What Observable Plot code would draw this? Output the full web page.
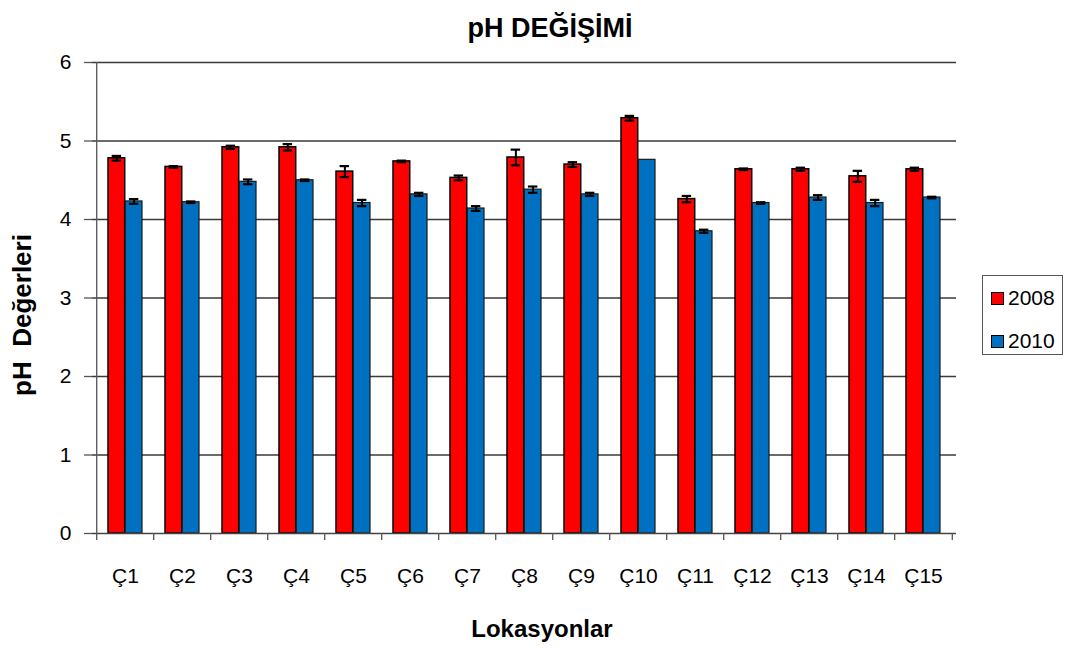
<!DOCTYPE html>
<html>
<head>
<meta charset="utf-8">
<script src="https://cdn.jsdelivr.net/npm/d3@7"></script>
<script src="https://cdn.jsdelivr.net/npm/@observablehq/plot@0.6"></script>
<style>
  html, body { margin: 0; padding: 0; background: #fff; }
  #chart { position: relative; width: 1065px; height: 649px; font-family: "Liberation Sans", Arial, sans-serif; }
  #legend { position: absolute; left: 982px; top: 275px; width: 79px; height: 78px; border: 1px solid #555; background: #fff; }
  .item { position: absolute; left: 8px; display: flex; align-items: center; font-size: 21px; color: #000; }
  .sw { width: 11px; height: 11px; border: 1px solid #000; margin-right: 4px; }
</style>
</head>
<body>
<div id="chart"></div>
<script>
const categories = ["Ç1","Ç2","Ç3","Ç4","Ç5","Ç6","Ç7","Ç8","Ç9","Ç10","Ç11","Ç12","Ç13","Ç14","Ç15"];
const years = ["2008", "2010"];
const ph2008 = [4.78,4.67,4.92,4.92,4.61,4.74,4.53,4.79,4.70,5.29,4.26,4.64,4.64,4.55,4.64];
const ph2010 = [4.23,4.22,4.48,4.50,4.21,4.32,4.14,4.38,4.32,4.76,3.85,4.21,4.28,4.21,4.28];
const err2008 = [0.03,0.01,0.02,0.04,0.07,0.01,0.03,0.10,0.03,0.03,0.04,0.01,0.02,0.07,0.02];
const err2010 = [0.03,0.01,0.03,0.01,0.04,0.02,0.03,0.04,0.02,0.00,0.02,0.01,0.03,0.04,0.01];
const yTicks = [0,1,2,3,4,5,6];
const gridValues = [1,2,3,4,5,6];
const colors = {"2008": "#FF0000", "2010": "#0070C0"};

const W = 1065, H = 649;
const mL = 92, mR = 109, mT = 62, mB = 116;
const pInner = 0.4, pOuter = 0.2;
const step = (W - mL - mR) / (categories.length - pInner + 2 * pOuter);
const bw = step * (1 - pInner);
const half = bw / 2;
const capW = 10;

const d08 = categories.map((c, i) => ({cat: c, v: ph2008[i], e: err2008[i]}));
const d10 = categories.map((c, i) => ({cat: c, v: ph2010[i], e: err2010[i]}));

const errMarks = (data, side) => {
  const centerOff = side < 0 ? half / 2 : half + half / 2; // from band left
  const inL = centerOff - capW / 2;
  const inR = bw - centerOff - capW / 2;
  const withErr = data.filter(d => d.e > 0);
  return [
    Plot.ruleX(withErr, {x: "cat", y1: d => d.v - d.e, y2: d => d.v + d.e, dx: side * half / 2, stroke: "#000", strokeWidth: 2}),
    Plot.tickY(withErr, {x: "cat", y: d => d.v + d.e, insetLeft: inL, insetRight: inR, stroke: "#000", strokeWidth: 2.2}),
    Plot.tickY(withErr, {x: "cat", y: d => d.v - d.e, insetLeft: inL, insetRight: inR, stroke: "#000", strokeWidth: 2.2})
  ];
};

const svg = Plot.plot({
  width: W, height: H,
  marginLeft: mL, marginRight: mR, marginTop: mT, marginBottom: mB,
  style: {fontFamily: '"Liberation Sans", Arial, sans-serif', background: "#fff", color: "#000", overflow: "visible"},
  x: {domain: categories, paddingInner: pInner, paddingOuter: pOuter, align: 0.5, axis: null, label: null},
  y: {domain: [0, 6], axis: null, label: null},
  marks: [
    Plot.ruleY(gridValues, {stroke: "#3a3a3a", strokeWidth: 1.3}),
    Plot.barY(d08, {x: "cat", y: "v", insetRight: half, fill: colors["2008"], stroke: "#000", strokeWidth: 1.5}),
    Plot.barY(d10, {x: "cat", y: "v", insetLeft: half, fill: colors["2010"], stroke: "#1a1a1a", strokeWidth: 1.2}),
    ...errMarks(d08, -1),
    ...errMarks(d10, 1),
    Plot.ruleY([0], {stroke: "#444", strokeWidth: 1.3}),
    Plot.ruleX([categories[0]], {dx: -step / 2, y1: 0, y2: 6, stroke: "#555", strokeWidth: 1.3}),
    Plot.axisY({ticks: yTicks, tickFormat: d3.format("d"), tickSize: 8, tickPadding: 13, fontSize: 21, stroke: "#555", strokeWidth: 1.3, label: null}),
    Plot.axisX({ticks: categories, tickSize: 7, dx: -step / 2, text: null, stroke: "#555", strokeWidth: 1.3, label: null}),
    Plot.axisX({ticks: [categories[categories.length - 1]], tickSize: 7, dx: step / 2, text: null, stroke: "#555", strokeWidth: 1.3, label: null}),
    Plot.axisX({ticks: categories, tickSize: 0, tickPadding: 35, fontSize: 21, label: null})
  ]
});

const s = d3.select(svg);
s.append("text").attr("x", 550).attr("y", 37).attr("text-anchor", "middle")
  .attr("font-size", 27).attr("font-weight", "bold").attr("fill", "#000").text("pH DEĞİŞİMİ");
s.append("text").attr("x", 542).attr("y", 637).attr("text-anchor", "middle")
  .attr("font-size", 24).attr("font-weight", "bold").attr("fill", "#000").text("Lokasyonlar");
s.append("text").attr("transform", "translate(31,315) rotate(-90)").attr("text-anchor", "middle")
  .attr("font-size", 26).attr("font-weight", "bold").attr("fill", "#000").attr("xml:space", "preserve")
  .style("white-space", "pre").text("pH  Değerleri");

const chart = document.getElementById("chart");
chart.appendChild(svg);

const legend = document.createElement("div");
legend.id = "legend";
years.forEach((y, i) => {
  const it = document.createElement("div");
  it.className = "item";
  it.style.top = (i === 0 ? 10 : 53) + "px";
  const sw = document.createElement("div");
  sw.className = "sw";
  sw.style.background = colors[y];
  const tx = document.createElement("span");
  tx.textContent = y;
  it.appendChild(sw); it.appendChild(tx);
  legend.appendChild(it);
});
chart.appendChild(legend);
</script>
</body>
</html>
